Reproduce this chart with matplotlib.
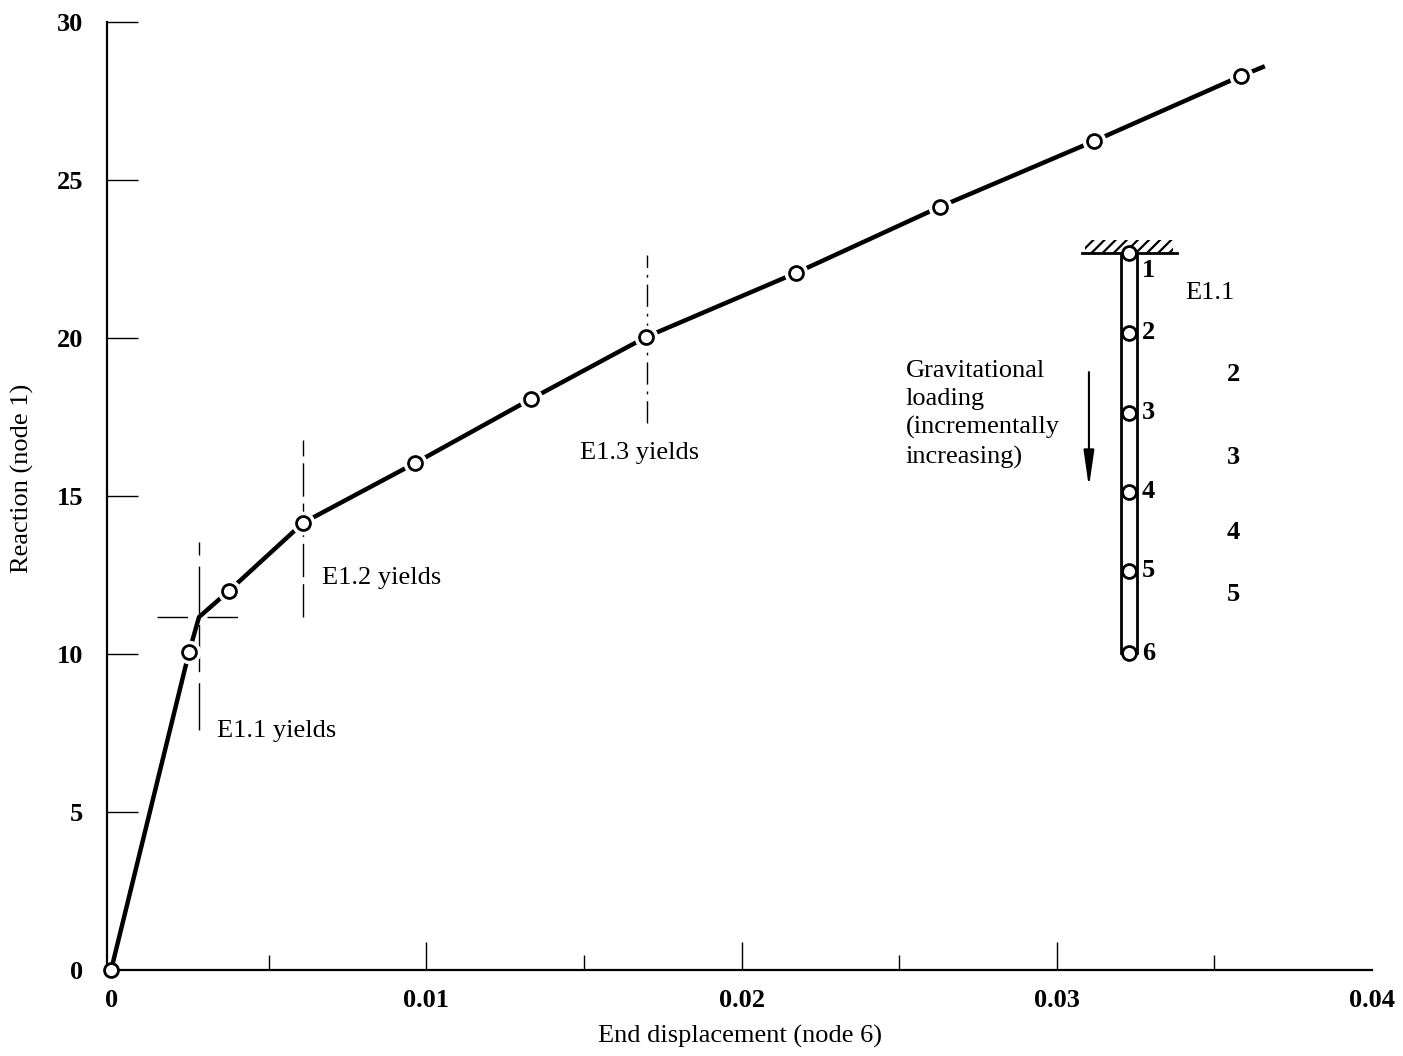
import matplotlib
matplotlib.use("Agg")
import matplotlib.pyplot as plt
from matplotlib.patches import Rectangle

# --- data -------------------------------------------------------------------
# curve (kink at E1.1 yield and end of line included, no marker there)
curve_disp = [0.0, 0.00247, 0.00279, 0.00374, 0.00609, 0.00964, 0.01332,
              0.01697, 0.02173, 0.02629, 0.03118, 0.03584, 0.03660]
curve_react = [0.0, 10.05, 11.17, 12.0, 14.15, 16.04, 18.07,
               20.03, 22.06, 24.15, 26.23, 28.29, 28.6]
# computed increments (open circles)
pt_disp = [0.0, 0.00247, 0.00374, 0.00609, 0.00964, 0.01332,
           0.01697, 0.02173, 0.02629, 0.03118, 0.03584]
pt_react = [0.0, 10.05, 12.0, 14.15, 16.04, 18.07,
            20.03, 22.06, 24.15, 26.23, 28.29]

# yield markers: (label, x, y range of the vertical line)
yield_labels = ["E1.1 yields", "E1.2 yields", "E1.3 yields"]
yield_x = [0.00279, 0.00609, 0.01700]
yield_y0 = [7.59, 11.17, 17.31]
yield_y1 = [13.54, 16.77, 22.63]
yield_text_x = [0.00336, 0.00669, 0.01487]
yield_text_y = [7.56, 12.41, 16.36]

# column sketch (6 nodes, 5 elements)
node_ids = ["1", "2", "3", "4", "5", "6"]
node_y = [22.69, 20.16, 17.63, 15.13, 12.63, 10.03]
elem_ids = ["E1.1", "2", "3", "4", "5"]
elem_y = [21.42, 18.83, 16.23, 13.83, 11.87]

xticks = [0, 0.01, 0.02, 0.03, 0.04]
xtick_labels = ["0", "0.01", "0.02", "0.03", "0.04"]
xminor = [0.005, 0.015, 0.025, 0.035]
yticks = [0, 5, 10, 15, 20, 25, 30]

# --- figure -----------------------------------------------------------------
plt.rcParams["font.family"] = ["Liberation Serif", "DejaVu Serif"]
plt.rcParams["hatch.linewidth"] = 1.6

W, H = 1403, 1056
fig = plt.figure(figsize=(W / 100, H / 100), dpi=100)
ax = fig.add_axes([107 / W, 1 - 970 / H, (1372 - 107) / W, (970 - 22) / H])
ax.set_xlim(-0.00013, 0.04)
ax.set_ylim(0, 30)

for s in ["top", "right"]:
    ax.spines[s].set_visible(False)
for s in ["left", "bottom"]:
    ax.spines[s].set_linewidth(1.6)

ax.set_xticks(xticks)
ax.set_xticklabels(xtick_labels)
ax.set_xticks(xminor, minor=True)
ax.set_yticks(yticks)
ax.tick_params(axis="x", which="major", direction="in", length=20, width=1,
               pad=14, labelsize=19)
ax.tick_params(axis="x", which="minor", direction="in", length=11, width=1)
ax.tick_params(axis="y", direction="in", length=22, width=1, pad=17,
               labelsize=19)
for t in ax.get_xticklabels() + ax.get_yticklabels():
    t.set_fontweight("bold")
ax.xaxis.get_major_ticks()[-1].tick1line.set_visible(False)
ax.xaxis.get_major_ticks()[0].tick1line.set_visible(False)
ax.yaxis.get_major_ticks()[0].tick1line.set_visible(False)

ax.set_xlabel("End displacement (node 6)", fontsize=19)
ax.xaxis.set_label_coords(0.5, -0.058)
fig.text(22 / W, 1 - 478 / H, "Reaction (node 1)", fontsize=19,
         rotation=90, ha="center", va="center")

# yield lines
ax.plot([yield_x[0]] * 2, [yield_y0[0], yield_y1[0]], color="black", lw=1,
        ls=(0, (34, 8)), zorder=1)
ax.plot([0.00146, 0.00431], [curve_react[2]] * 2, color="black", lw=1,
        ls=(0, (22, 14)), zorder=1)
ax.plot([yield_x[1]] * 2, [yield_y0[1], yield_y1[1]], color="black", lw=1,
        ls=(0, (24, 5)), zorder=1)
ax.plot([yield_x[2]] * 2, [yield_y0[2], yield_y1[2]], color="black", lw=1,
        ls=(0, (16, 5, 2, 5)), zorder=1)
for lab, tx, ty in zip(yield_labels, yield_text_x, yield_text_y):
    ax.text(tx, ty, lab, fontsize=19, ha="left", va="center")

# main curve with white gaps round the circles
ax.plot(curve_disp, curve_react, color="black", lw=3.2, zorder=2,
        solid_capstyle="butt")
ax.plot(pt_disp[1:], pt_react[1:], ls="none", marker="o", ms=17,
        mfc="white", mec="none", zorder=3)
ax.plot(pt_disp, pt_react, ls="none", marker="o", ms=10, mfc="white",
        mec="black", mew=2, zorder=4, clip_on=False)

# column sketch
cx = 0.03229
hw = 0.00024
ax.plot([cx - hw] * 2, [node_y[0], node_y[-1]], color="black", lw=2, zorder=2)
ax.plot([cx + hw] * 2, [node_y[0], node_y[-1]], color="black", lw=2, zorder=2)
ax.plot([0.0308, 0.03381], [node_y[0]] * 2, color="black", lw=2, zorder=2)
ax.add_patch(Rectangle((0.0309, node_y[0]), 0.0028, 0.42, fill=False,
                       hatch="///", lw=0, zorder=2))
ax.plot([cx] * len(node_y), node_y, ls="none", marker="o", ms=10,
        mfc="white", mec="black", mew=2, zorder=4)
for lab, ny in zip(node_ids, node_y):
    ax.text(0.0327, ny - (0.55 if lab == "1" else 0.0), lab, fontsize=19,
            fontweight="bold", ha="left", va="center")
for lab, ey in zip(elem_ids, elem_y):
    if lab == "E1.1":
        ax.text(0.03406, ey, lab, fontsize=19, ha="left", va="center")
    else:
        ax.text(0.0356, ey, lab, fontsize=19, fontweight="bold",
                ha="center", va="center")

ax.annotate("", xy=(0.03102, 15.28), xytext=(0.03102, 18.92),
            arrowprops=dict(arrowstyle="-|>,head_length=2.2,head_width=0.32",
                            color="black", lw=1.5, shrinkA=0, shrinkB=0))
ax.text(0.02521, 19.3, "Gravitational\nloading\n(incrementally\nincreasing)",
        fontsize=19, ha="left", va="top", linespacing=1.35)

fig.savefig("out.png", dpi=100)
